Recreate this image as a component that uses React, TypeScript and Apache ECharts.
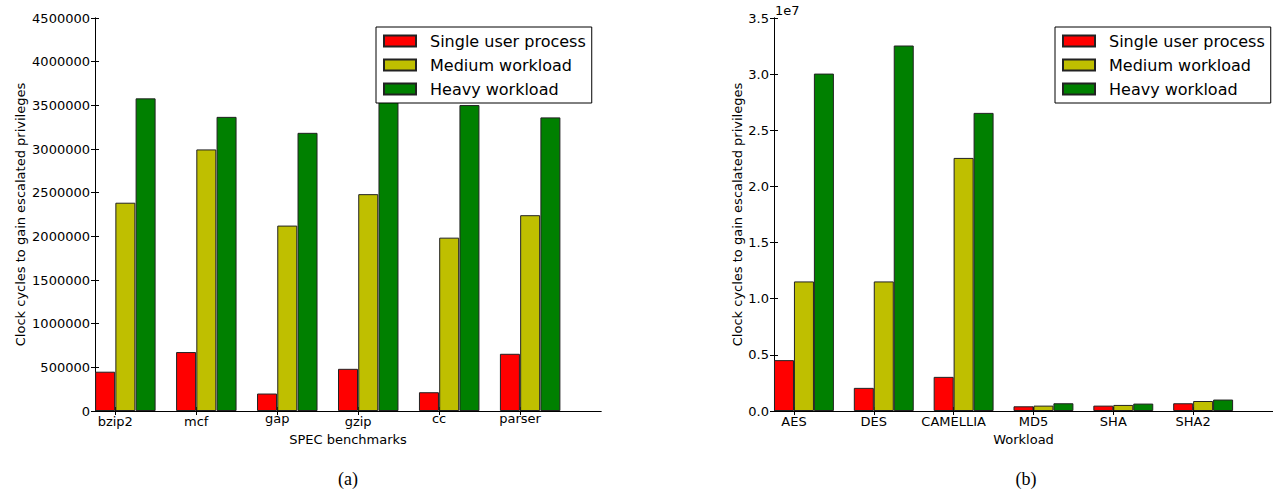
import React, { useEffect, useRef } from "react";
import * as echarts from "echarts";

const specCategories = ["bzip2", "mcf", "gap", "gzip", "cc", "parser"];
const specSingle = [450000, 675000, 200000, 483000, 215000, 655000];
const specMedium = [2385000, 2995000, 2123000, 2483000, 1985000, 2242000];
const specHeavy = [3580000, 3368000, 3185000, 3600000, 3503000, 3362000];

const workCategories = ["AES", "DES", "CAMELLIA", "MD5", "SHA", "SHA2"];
const workSingle = [4530000, 2060000, 3040000, 420000, 480000, 690000];
const workMedium = [11540000, 11540000, 22540000, 480000, 540000, 890000];
const workHeavy = [30050000, 32550000, 26550000, 690000, 660000, 1020000];

const seriesNames = ["Single user process", "Medium workload", "Heavy workload"];
const seriesColors = ["#ff0000", "#bfbf00", "#008000"];

const FONT = "DejaVu Sans";
const labelPositions = [0.25, 1.25, 2.25, 3.25, 4.25, 5.25];

export default function App() {
  const ref = useRef<HTMLDivElement>(null);
  useEffect(() => {
    if (!ref.current) return;
    const chart = echarts.init(ref.current, null, { renderer: "svg" });

    const grids = [
      { left: 95, top: 18, width: 506, height: 393 },
      { left: 774, top: 18, width: 504, height: 393 },
    ];

    const xAxes: any[] = [];
    const yAxes: any[] = [];
    const cats = [specCategories, workCategories];
    const xNames = ["SPEC benchmarks", "Workload"];
    const xNameGaps = [22, 20];
    const yMax = [4500000, 35000000];
    const yInt = [500000, 5000000];
    const yNameGaps = [68, 30];
    const labelStyle = { fontFamily: FONT, fontSize: 13, color: "#000" };

    for (let g = 0; g < 2; g++) {
      const c = cats[g];
      xAxes.push({
        type: "value",
        gridIndex: g,
        position: "bottom",
        min: 0,
        max: 6.25,
        name: xNames[g],
        nameLocation: "middle",
        nameGap: xNameGaps[g],
        nameTextStyle: { fontFamily: FONT, fontSize: 13, color: "#000" },
        axisLine: { show: true, lineStyle: { color: "#000", width: 1 } },
        axisTick: { show: true, inside: true, length: 4, lineStyle: { color: "#000" }, customValues: labelPositions },
        axisLabel: {
          show: true,
          customValues: labelPositions,
          margin: 1,
          fontFamily: FONT,
          fontSize: 13,
          color: "#000",
          formatter: (v: number) => {
            const s = c[Math.round(v - 0.25)] ?? "";
            const tall = /[A-Zbdfhijklt0-9]/.test(s);
            return tall ? `{n|${s}}` : `{r|${s}}`;
          },
          rich: {
            n: { ...labelStyle, padding: [3, 0, 0, 0] },
            r: { ...labelStyle, padding: [0, 0, 0, 0] },
          },
        },
        splitLine: { show: false },
      });
      xAxes.push({
        type: "value",
        gridIndex: g,
        position: "top",
        min: 0,
        max: 6.25,
        axisLine: { show: true, lineStyle: { color: "#000", width: 1 } },
        axisTick: { show: true, inside: true, length: 4, lineStyle: { color: "#000" }, customValues: labelPositions },
        axisLabel: { show: false },
        splitLine: { show: false },
      });
      yAxes.push({
        type: "value",
        gridIndex: g,
        position: "left",
        min: 0,
        max: yMax[g],
        interval: yInt[g],
        name: "Clock cycles to gain escalated privileges",
        nameLocation: "middle",
        nameGap: yNameGaps[g],
        nameTextStyle: { fontFamily: FONT, fontSize: 13, color: "#000" },
        axisLine: { show: true, lineStyle: { color: "#000", width: 1 } },
        axisTick: { show: true, inside: true, length: 4, lineStyle: { color: "#000" } },
        axisLabel: {
          margin: 5,
          fontFamily: FONT,
          fontSize: 13,
          color: "#000",
          formatter: g === 0 ? (v: number) => String(v) : (v: number) => (v / 1e7).toFixed(1),
        },
        splitLine: { show: false },
      });
      yAxes.push({
        type: "value",
        gridIndex: g,
        position: "right",
        min: 0,
        max: yMax[g],
        interval: yInt[g],
        axisLine: { show: true, lineStyle: { color: "#000", width: 1 } },
        axisTick: { show: true, inside: true, length: 4, lineStyle: { color: "#000" } },
        axisLabel: { show: false },
        splitLine: { show: false },
      });
    }

    const data = [
      [specSingle, specMedium, specHeavy],
      [workSingle, workMedium, workHeavy],
    ];
    const series: any[] = [];
    for (let g = 0; g < 2; g++) {
      for (let k = 0; k < 3; k++) {
        series.push({
          type: "bar",
          name: seriesNames[k],
          xAxisIndex: g * 2,
          yAxisIndex: g * 2,
          barWidth: 20,
          barGap: "-100%",
          itemStyle: { color: seriesColors[k], borderColor: "#222", borderWidth: 1 },
          data: data[g][k].map((v, i) => [i + 0.125 + 0.25 * k, v]),
        });
      }
    }

    const legendBase = {
      orient: "vertical",
      top: 27,
      itemWidth: 32,
      itemHeight: 11,
      itemGap: 8,
      padding: [6, 6, 6, 7],
      borderColor: "#000",
      borderWidth: 1,
      backgroundColor: "#fff",
      selectedMode: false,
      icon: "rect",
      textStyle: { fontFamily: FONT, fontSize: 16, color: "#000", lineHeight: 16, padding: [0, 0, 0, 9] },
      data: seriesNames,
    };

    chart.setOption({
      animation: false,
      backgroundColor: "#fff",
      grid: grids.map((g) => ({ ...g, show: false, containLabel: false })),
      xAxis: xAxes,
      yAxis: yAxes,
      legend: [
        { ...legendBase, left: 376 },
        { ...legendBase, left: 1055 },
      ],
      series,
      graphic: [
        {
          type: "text",
          left: 775,
          top: 4,
          style: { text: "1e7", fontFamily: FONT, fontSize: 13, fill: "#000" },
        },
        {
          type: "text",
          x: 348,
          y: 479,
          style: {
            text: "(a)",
            fontFamily: "Liberation Serif",
            fontSize: 18,
            fill: "#000",
            textAlign: "center",
            textVerticalAlign: "middle",
          },
        },
        {
          type: "text",
          x: 1026,
          y: 479,
          style: {
            text: "(b)",
            fontFamily: "Liberation Serif",
            fontSize: 18,
            fill: "#000",
            textAlign: "center",
            textVerticalAlign: "middle",
          },
        },
      ],
    });
    return () => chart.dispose();
  }, []);
  return (
    <div
      ref={ref}
      style={{ position: "fixed", left: 0, top: 0, width: 1273, height: 489, background: "#fff" }}
    />
  );
}
